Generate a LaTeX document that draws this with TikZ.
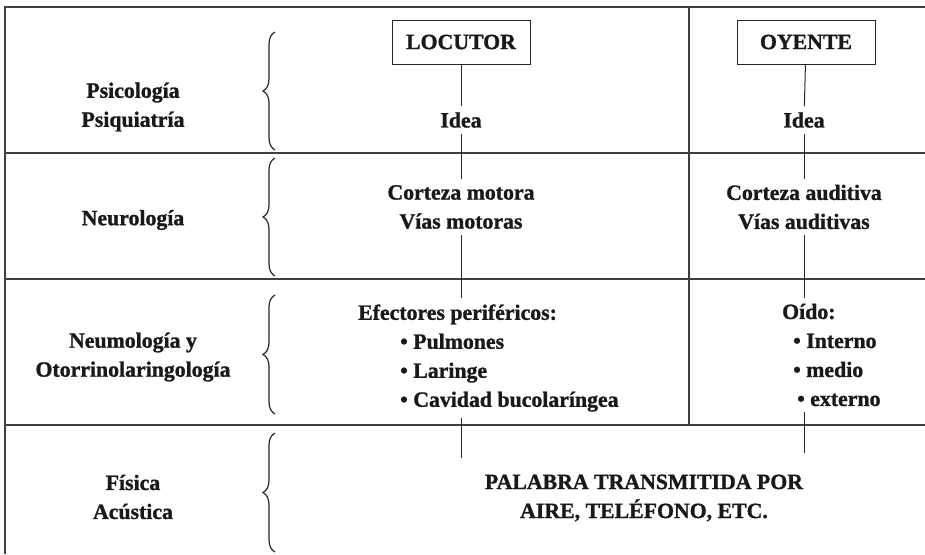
\documentclass[tikz,border=0pt]{standalone}
\usepackage{fontspec}
\setmainfont{Liberation Serif}[BoldFeatures={FakeBold=1.2}]
\usetikzlibrary{decorations.pathreplacing}

\begin{document}
\begin{tikzpicture}[x=1pt, y=-1pt,
    every node/.style={font=\fontsize{21.8}{29}\selectfont\bfseries, text=black!90, inner sep=6pt},
    rule/.style={draw=black!75, line width=1.3pt},
    link/.style={draw=black!85, line width=1pt},
    caja/.style={draw=black!85, line width=1pt, minimum width=138pt, minimum height=44pt, inner sep=0pt},
    llave/.style={draw=black!85, line width=1.2pt, decorate, decoration={brace, amplitude=12pt}}]
  \useasboundingbox (0,0) rectangle (925,554);
  \draw[rule] (925,7) -- (5,7) -- (5,554);
  \foreach \y in {153, 279, 425}
    \draw[rule] (5,\y) -- (925,\y);
  \draw[rule] (689,7) -- (689,425);
  \foreach \a/\b in {150/32, 276/158, 414/295, 552/433}
    \draw[llave] (275,\a) -- (275,\b);

  \node (psico) at (133,107) [align=center] {Psicología\\Psiquiatría};
  \node (neuro) at (133,220) {Neurología};
  \node (neumo) at (133,357) [align=center] {Neumología y\\Otorrinolaringología};
  \node (fisica) at (133,497) [align=center] {Física\\Acústica};

  \node (loc) at (461,42) [caja] {LOCUTOR};
  \node (oye) at (806,42) [caja] {OYENTE};
  \node (ideaL) at (461,120) {Idea};
  \node (ideaR) at (804,120) {Idea};
  \node (motor) at (461,207) [align=center] {Corteza motora\\Vías motoras};
  \node (audit) at (804,207) [align=center] {Corteza auditiva\\Vías auditivas};
  \node (efect) at (352,358) [anchor=west, align=left]
    {Efectores periféricos:\\\hspace*{42pt}• Pulmones\\\hspace*{42pt}• Laringe\\\hspace*{42pt}• Cavidad bucolaríngea};
  \node (oido) at (776,355) [anchor=west, align=left]
    {Oído:\\\hspace*{11pt}• Interno\\\hspace*{11pt}• medio\\\hspace*{15pt}• externo};
  \node (palabra) at (644,498) [align=center] {PALABRA TRANSMITIDA POR\\AIRE, TELÉFONO, ETC.};
  \coordinate (finL) at (461,458);
  \coordinate (finR) at (804,453);

  \draw[link] (loc) -- (ideaL);
  \draw[link] (ideaL) -- (motor);
  \draw[link] (motor.south) -- (motor.south |- efect.north);
  \draw[link] (motor.south |- efect.south) -- (finL);
  \draw[link] (oye) -- (ideaR);
  \draw[link] (ideaR) -- (audit);
  \draw[link] (audit.south) -- (audit.south |- oido.north);
  \draw[link] (audit.south |- oido.south) -- (finR);
\end{tikzpicture}
\end{document}
